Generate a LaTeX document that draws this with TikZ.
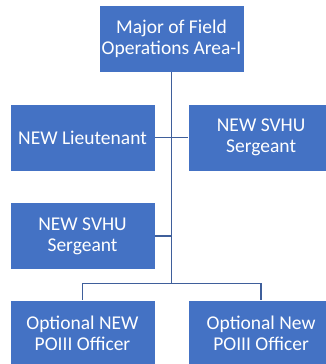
\documentclass[tikz,border=0pt]{standalone}
\usepackage{fontspec}
\setmainfont{Carlito}
\usepackage{tikz}
\usetikzlibrary{positioning}

\definecolor{boxblue}{RGB}{68,114,196}
\definecolor{linkblue}{RGB}{63,95,155}

\begin{document}
\begin{tikzpicture}[x=1pt, y=1pt,
  node distance=30pt,
  orgbox/.style={rectangle, fill=boxblue, draw=white, line width=0.6pt,
                 minimum width=145pt, minimum height=67pt, inner sep=0pt,
                 align=center, text=white, font=\fontsize{19.5}{21}\selectfont},
  link/.style={draw=linkblue, line width=1.5pt},
]
  \useasboundingbox (0,0) rectangle (325,-364);

  \node[orgbox] (major) at (171.5,-38.5) {Major of Field\\Operations Area-I};
  \node[orgbox] (lieut) at (82.5,-137.5) {NEW Lieutenant};
  \node[orgbox, right=33pt of lieut] (svhuA) {NEW SVHU\\Sergeant};
  \node[orgbox, below=31pt of lieut] (svhuB) {NEW SVHU\\Sergeant};
  \node[orgbox, below=30pt of svhuB] (poiiiA) {Optional NEW\\POIII Officer};
  \node[orgbox, right=33pt of poiiiA] (poiiiB) {Optional New\\POIII Officer};

  \coordinate (bus) at (major.south |- 0,-283.5);

  \draw[link] (major.south) -- (bus);
  \draw[link] (lieut.east) -- (svhuA.west);
  \draw[link] (svhuB.east) -- (svhuB.east -| major.south);
  \draw[link] (bus) -| (poiiiA.north);
  \draw[link] (bus) -| (poiiiB.north);
\end{tikzpicture}
\end{document}
